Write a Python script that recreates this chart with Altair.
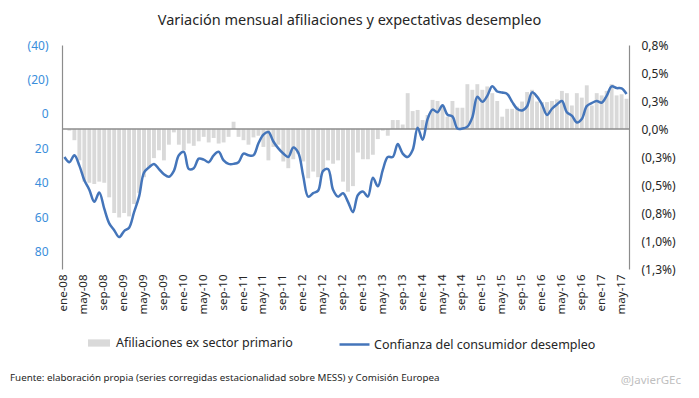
import altair as alt
import pandas as pd

FONT = "Noto Sans"

abbr = ["ene", "feb", "mar", "abr", "may", "jun", "jul", "ago", "sep", "oct", "nov", "dic"]
meses = [f"{m}-{y:02d}" for y in range(8, 18) for m in abbr][:114]

# Afiliaciones ex sector primario, variación mensual (%)
afiliaciones = [
    0.0, -0.015, -0.10, -0.28, -0.47, -0.48, -0.49, -0.47, -0.48, -0.61, -0.75, -0.79,
    -0.75, -0.78, -0.67, -0.57, -0.43, -0.34, -0.26, -0.19, -0.28, -0.14, -0.03, -0.14,
    -0.19, -0.13, -0.15, -0.11, -0.07, -0.12, -0.08, -0.13, -0.12, -0.07, 0.065, -0.07,
    -0.10, -0.14, -0.075, -0.06, -0.16, -0.28, -0.16, -0.14, -0.29, -0.35, -0.27, -0.22,
    -0.29, -0.44, -0.38, -0.43, -0.38, -0.28, -0.31, -0.28, -0.47, -0.56, -0.51, -0.21,
    -0.27, -0.27, -0.23, -0.09, -0.015, -0.06, 0.08, 0.08, 0.04, 0.32, 0.16, 0.17,
    0.08, 0.125, 0.26, 0.25, 0.20, 0.11, 0.25, 0.19, 0.19, 0.40, 0.35, 0.40,
    0.35, 0.38, 0.32, 0.25, 0.11, 0.18, 0.18, 0.20, 0.245, 0.33, 0.35, 0.245,
    0.24, 0.24, 0.25, 0.265, 0.34, 0.32, 0.21, 0.32, 0.28, 0.39, 0.21, 0.32,
    0.30, 0.34, 0.40, 0.30, 0.31, 0.27,
]

# Confianza del consumidor: expectativas de desempleo (eje invertido)
confianza = [
    25, 28, 24, 30, 38.5, 44, 51, 45.6, 55, 63.5, 67.5, 71.5,
    68, 66, 57, 48, 34, 31, 29, 32, 35, 36.5, 33, 24,
    22, 32, 31.5, 26, 26.5, 28, 24, 22, 27, 29, 29, 28,
    23, 24, 24, 17, 12, 10.5, 16, 20, 23, 25, 19.5, 22.5,
    36, 48, 46, 44.5, 33, 32, 44, 48, 46, 51, 57, 47,
    45, 48, 37, 42, 32.5, 25, 25, 17.5, 23, 25, 21, 8,
    15, 3, -2.5, -1, -5, 0.5, 1.5, 8.5, 8.5, 7.4, 2, -10,
    -7, -10.5, -16, -13, -12.4, -11.6, -7, -3, -2, -4.5, -12.5, -10,
    -5.5, 0.6, -3, -5.5, -7.5, -1, 1, 5, 3, -4.5, -6.3, -7.5,
    -6.5, -10.5, -16, -15, -14.8, -11.6,
]

left_ticks = [-40, -20, 0, 20, 40, 60, 80]
left_labels = ["(40)", "(20)", "0", "20", "40", "60", "80"]
right_ticks = [0.75, 0.5, 0.25, 0, -0.25, -0.5, -0.75, -1.0, -1.25]
right_labels = ["0,8%", "0,5%", "0,3%", "0,0%", "(0,3%)", "(0,5%)", "(0,8%)", "(1,0%)", "(1,3%)"]
x_labels = meses[::4]

bar_name = "Afiliaciones ex sector primario"
line_name = "Confianza del consumidor desempleo"
title_text = "Variación mensual afiliaciones y expectativas desempleo"
footer_text = "Fuente: elaboración propia (series corregidas estacionalidad sobre MESS) y Comisión Europea"
mark_text = "@JavierGEc"


def label_expr(vals, labs):
    expr = "''"
    for v, l in reversed(list(zip(vals, labs))):
        expr = f"abs(datum.value - ({v})) < 1e-6 ? '{l}' : ({expr})"
    return expr


df = pd.DataFrame({"mes": meses, "afil": afiliaciones, "conf": confianza,
                   "s1": bar_name, "s2": line_name})

x_enc = alt.X(
    "mes:N", sort=None, title=None,
    scale=alt.Scale(paddingInner=0.22, paddingOuter=0.1),
    axis=alt.Axis(values=x_labels, labelAngle=-90, domain=False, ticks=False,
                  labelPadding=5, labelFontSize=11.5, labelColor="#262626",
                  labelFont=FONT),
)

right_axis = alt.Axis(orient="right", values=right_ticks,
                      labelExpr=label_expr(right_ticks, right_labels),
                      labelOverlap=False, labelBound=False, labelFlush=False,
                      grid=False, ticks=False, tickSize=0,
                      domainColor="#8C8C8C", domainWidth=1.2,
                      labelPadding=12, labelColor="#262626",
                      labelFontSize=12, labelFont=FONT)

bars = alt.Chart(df).mark_bar().encode(
    x=x_enc,
    y=alt.Y("afil:Q", title=None, stack=None,
            scale=alt.Scale(domain=[-1.25, 0.75], nice=False),
            axis=right_axis),
    color=alt.Color("s1:N", scale=alt.Scale(domain=[bar_name], range=["#D9D9D9"]),
                    legend=alt.Legend(title=None, orient="none", legendX=26, legendY=287,
                                      symbolType="M-1,-0.33H1V0.33H-1Z", symbolSize=484,
                                      symbolStrokeWidth=0, labelFontSize=12.5,
                                      labelFont=FONT, labelColor="#262626", labelLimit=0,
                                      labelOffset=6, padding=0)),
)

zero_rule = alt.Chart(pd.DataFrame({"z": [0]})).mark_rule(
    color="#8C8C8C", strokeWidth=1.5
).encode(y=alt.Y("z:Q", title=None, axis=right_axis))

line = alt.Chart(df).mark_line(interpolate="catmull-rom", strokeWidth=2.5).encode(
    x=x_enc,
    y=alt.Y("conf:Q", title=None,
            scale=alt.Scale(domain=[-40, 90], reverse=True, nice=False, zero=False),
            axis=alt.Axis(orient="left", values=left_ticks,
                          labelExpr=label_expr(left_ticks, left_labels),
                          labelOverlap=False, labelBound=False, labelFlush=False,
                          grid=False, ticks=False, tickSize=0,
                          domainColor="#8C8C8C", domainWidth=1.2,
                          labelPadding=14, labelColor="#3A8EDB",
                          labelFontSize=12, labelFont=FONT)),
    stroke=alt.Stroke("s2:N", scale=alt.Scale(domain=[line_name], range=["#4475BA"]),
                      legend=alt.Legend(title=None, orient="none", legendX=276, legendY=283,
                                        symbolType="stroke", symbolSize=900,
                                        symbolStrokeWidth=2.5, labelFontSize=12.5,
                                        labelFont=FONT, labelColor="#262626", labelLimit=0,
                                        labelOffset=3, padding=0)),
)

footer = alt.Chart(pd.DataFrame({"t": [footer_text]})).mark_text(
    align="left", baseline="middle", fontSize=9.8, font=FONT, color="#262626"
).encode(text="t:N", x=alt.value(-52), y=alt.value(333))

watermark = alt.Chart(pd.DataFrame({"t": [mark_text]})).mark_text(
    align="right", baseline="middle", fontSize=11.5, font=FONT, color="#BFBFBF"
).encode(text="t:N", x=alt.value(619), y=alt.value(336))

chart = alt.layer(
    alt.layer(bars, zero_rule), line, footer, watermark
).resolve_scale(y="independent").properties(
    width=567, height=224,
    title=alt.TitleParams(title_text, font=FONT, fontSize=14.5, fontWeight="normal",
                          color="#262626", anchor="middle", offset=11, dx=4),
    padding={"left": 54, "top": 37, "right": 62, "bottom": 122},
    autosize=alt.AutoSizeParams(type="none"),
).configure_view(stroke=None)

chart.save("out.html", embed_options={"renderer": "svg", "actions": False})
